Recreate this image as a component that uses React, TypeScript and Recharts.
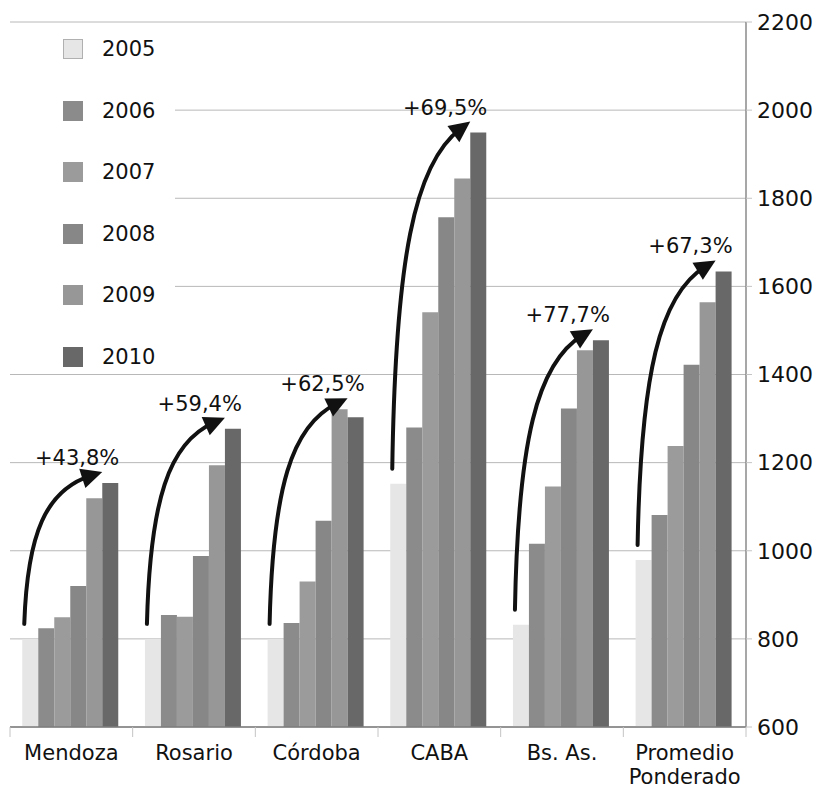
import React from "react";
import {
  BarChart,
  Bar,
  XAxis,
  YAxis,
  CartesianGrid,
  Legend,
} from "recharts";

const categories = ["Mendoza", "Rosario", "Córdoba", "CABA", "Bs. As.", "Promedio Ponderado"];
const years = ["2005", "2006", "2007", "2008", "2009", "2010"];
const v2005 = [800, 800, 800, 1152, 832, 979];
const v2006 = [824, 854, 836, 1280, 1016, 1081];
const v2007 = [849, 850, 930, 1541, 1146, 1238];
const v2008 = [920, 988, 1068, 1757, 1323, 1422];
const v2009 = [1119, 1194, 1321, 1845, 1455, 1564];
const v2010 = [1154, 1277, 1303, 1949, 1478, 1634];
const growth = ["+43,8%", "+59,4%", "+62,5%", "+69,5%", "+77,7%", "+67,3%"];
const yTicks = [600, 800, 1000, 1200, 1400, 1600, 1800, 2000, 2200];

const series = [v2005, v2006, v2007, v2008, v2009, v2010];
const colors = ["#e6e6e6", "#8b8b8b", "#9b9b9b", "#878787", "#979797", "#686868"];

const data = categories.map((name, i) => {
  const row: Record<string, string | number> = { name };
  years.forEach((y, s) => (row["y" + y] = series[s][i]));
  return row;
});

const W = 821;
const H = 790;
const MARGIN = { top: 22, right: 10, bottom: 5, left: 10 };
const Y_AXIS_W = 65;
const PLOT_W = W - MARGIN.left - MARGIN.right - Y_AXIS_W;
const BAND = PLOT_W / categories.length;
const FONT = "'DejaVu Sans', Verdana, sans-serif";
const Y_MIN = yTicks[0];

function CategoryTick(props: any) {
  const { x, y, payload, index } = props;
  const label: string = payload.value;
  const lines = label.length > 12 ? label.split(" ") : [label];
  return (
    <g>
      <line x1={x - BAND / 2} x2={x - BAND / 2} y1={y} y2={y + 10} stroke="#c4c4c4" />
      {index === categories.length - 1 && (
        <line x1={x + BAND / 2} x2={x + BAND / 2} y1={y} y2={y + 10} stroke="#c4c4c4" />
      )}
      <text x={x} y={y + 33} textAnchor="middle" fontSize={21} fontFamily={FONT} fill="#111">
        {lines.map((l, i) => (
          <tspan key={i} x={x} dy={i === 0 ? 0 : 24}>
            {l}
          </tspan>
        ))}
      </text>
    </g>
  );
}

// arrow + growth text, drawn from the 2010 bar geometry
function Annotation(props: any) {
  const { x, y, width, height, index } = props;
  if (index == null) return null;
  const base = y + height;
  const k = height / (v2010[index] - Y_MIN);
  const yOf = (v: number) => base - (v - Y_MIN) * k;
  const groupTop = Math.min(...series.map((s) => yOf(s[index])));

  const sx = x - 5 * width + 2;
  const sy = yOf(v2005[index]) - 15;
  const px = x;
  const py = groupTop - 11;
  const dx = px - sx;
  const h = sy - py;
  const c1x = sx + 0.04 * dx;
  const c1y = sy - 0.6 * h;
  const c2x = sx + 0.28 * dx;
  const c2y = py + 0.12 * h;
  let ux = px - c2x;
  let uy = py - c2y;
  const len = Math.hypot(ux, uy) || 1;
  ux /= len;
  uy /= len;
  const ex = px - ux * 12;
  const ey = py - uy * 12;
  const bx = px - ux * 21;
  const by = py - uy * 21;
  const nx = -uy;
  const ny = ux;

  return (
    <g>
      <path
        d={`M${sx},${sy} C${c1x},${c1y} ${c2x},${c2y} ${ex},${ey}`}
        fill="none"
        stroke="#111"
        strokeWidth={4}
        strokeLinecap="round"
      />
      <polygon
        points={`${px},${py} ${bx + nx * 10},${by + ny * 10} ${bx - nx * 10},${by - ny * 10}`}
        fill="#111"
      />
      <text x={px + 17} y={py - 7} textAnchor="end" fontSize={21} fontFamily={FONT} fill="#111">
        {growth[index]}
      </text>
    </g>
  );
}

function LegendBox(props: any) {
  const payload = props.payload || [];
  return (
    <div style={{ position: "relative", width: 175, height: 340, background: "#fff", fontFamily: FONT }}>
      {payload.map((p: any, i: number) => (
        <div
          key={p.value}
          style={{
            position: "absolute",
            left: 63,
            top: 21 - 14 + i * 61.6,
            height: 28,
            display: "flex",
            alignItems: "center",
          }}
        >
          <span
            style={{
              width: 20,
              height: 20,
              boxSizing: "border-box",
              background: p.color,
              border: i === 0 ? "1px solid #b0b0b0" : "none",
              display: "inline-block",
            }}
          />
          <span style={{ marginLeft: 19, fontSize: 21, color: "#111", lineHeight: "28px" }}>{p.value}</span>
        </div>
      ))}
    </div>
  );
}

export default function App() {
  return (
    <div style={{ position: "absolute", left: 0, top: 0, width: W, height: H, background: "#fff" }}>
      <BarChart
        width={W}
        height={H}
        data={data}
        margin={MARGIN}
        barCategoryGap="10%"
        barGap={0}
      >
        <CartesianGrid vertical={false} stroke="#b8b8b8" />
        <XAxis
          dataKey="name"
          height={58}
          tickLine={false}
          tickSize={0}
          tickMargin={0}
          interval={0}
          axisLine={{ stroke: "#7d7d7d", strokeWidth: 1.5 }}
          tick={(p: any) => <CategoryTick {...p} />}
        />
        <YAxis
          orientation="right"
          width={Y_AXIS_W}
          domain={[Y_MIN, yTicks[yTicks.length - 1]]}
          ticks={yTicks}
          interval={0}
          axisLine={{ stroke: "#8a8a8a", strokeWidth: 1.5 }}
          tickLine={{ stroke: "#c4c4c4" }}
          tickSize={6}
          tickMargin={5}
          tick={{ fontSize: 22, fill: "#111", fontFamily: FONT }}
        />
        <Legend
          layout="horizontal"
          verticalAlign="middle"
          align="center"
          wrapperStyle={{ left: 0, top: 28, width: 175, height: 340 }}
          content={(p: any) => <LegendBox {...p} />}
        />
        {years.map((yr, s) => (
          <Bar
            key={yr}
            dataKey={"y" + yr}
            name={yr}
            fill={colors[s]}
            isAnimationActive={false}
            label={s === years.length - 1 ? (p: any) => <Annotation key={"a" + p.index} {...p} /> : undefined}
          />
        ))}
      </BarChart>
    </div>
  );
}
